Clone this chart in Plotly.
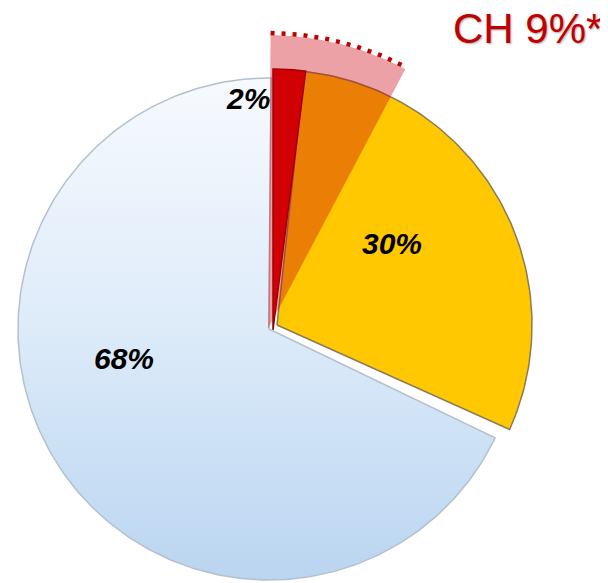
import numpy as np
import plotly.graph_objects as go

# pie data, clockwise from 12 o'clock
slice_names = ["Slice 1", "Slice 2", "Slice 3"]
slice_values = [2, 30, 68]
slice_colors = ["#D60000", "#FFC800", "#D9E9F9"]
slice_edges = ["#8E0000", "#8A7A55", "#B4C0CC"]

# highlighted wedge on top
ch_label = "CH 9%*"
ch_wedge_pct = 7.6   # extent of the pink wedge as drawn

# page body has an 8px margin, so the figure starts at (8, 8) on screen;
# the axes below are set up in screen pixels
PAGE = 8
SW, SH = 608, 583
W, H = SW - PAGE, SH - PAGE

# per-slice apex, radius and start rotation (the original is a tilted 3D pie)
centres = [(273, 330), (277, 325), (269, 329)]
radii = [261, 255, 251]
rotations = [0, -1, 0.5]
label_pos = [(248, 98), (392, 243), (124, 358)]

vals = np.array(slice_values, dtype=float)
total = vals.sum()
starts = np.concatenate([[0], np.cumsum(vals)[:-1]])


def wedge(i):
    px, py = centres[i]
    a0 = rotations[i] + 360 * starts[i] / total
    a1 = a0 + 360 * vals[i] / total
    a = np.radians(np.linspace(a0, a1, max(20, int(vals[i] * 4))))
    xs = np.concatenate([[px], px + radii[i] * np.sin(a), [px]])
    ys = np.concatenate([[py], py - radii[i] * np.cos(a), [py]])
    return xs, ys


fig = go.Figure()

# blue slice gets the soft top-to-bottom gradient of the original
for i in [2, 1, 0]:
    xs, ys = wedge(i)
    extra = {}
    if i == 2:
        extra["fillgradient"] = dict(type="vertical",
                                     colorscale=[[0, "#BAD5F1"], [0.5, "#DDEBF9"], [1, "#F7FAFE"]])
    else:
        extra["fillcolor"] = slice_colors[i]
    fig.add_trace(go.Scatter(
        x=xs, y=ys, mode="lines", fill="toself",
        line=dict(color=slice_edges[i], width=1.5),
        name=slice_names[i], text=f"{slice_values[i]}%", hoverinfo="name+text",
        showlegend=False, **extra,
    ))

# dotted arc over the CH wedge
cx, cy, r_ch = 268, 329, 296
t = np.radians(np.linspace(0.5, 0.5 + 3.6 * ch_wedge_pct, 60))
fig.add_trace(go.Scatter(
    x=cx + r_ch * np.sin(t), y=cy - r_ch * np.cos(t),
    mode="lines", line=dict(color="#C00000", width=4.5, dash="4px,7px"),
    hoverinfo="skip", showlegend=False,
))

# translucent pink wedge
xs = np.concatenate([[cx], cx + (r_ch - 2) * np.sin(t), [cx]])
ys = np.concatenate([[cy], cy - (r_ch - 2) * np.cos(t), [cy]])
fig.add_trace(go.Scatter(
    x=xs, y=ys, mode="lines", fill="toself", fillcolor="rgba(200,0,10,0.37)",
    line=dict(width=0), hoverinfo="skip", showlegend=False,
))

for v, (lx, ly) in zip(slice_values, label_pos):
    fig.add_annotation(x=lx, y=ly, xref="x", yref="y", text=f"{v}%", showarrow=False,
                       font=dict(family="Liberation Sans", size=30, color="black",
                                 weight="bold", style="italic"))

fig.add_annotation(x=604, y=28, xref="x", yref="y", text=ch_label, showarrow=False,
                   xanchor="right", yanchor="middle",
                   font=dict(family="Liberation Sans", size=42, color="#C00000",
                             shadow="1px 1px 2px rgba(0,0,0,0.35)"))

fig.update_layout(
    width=W, height=H, margin=dict(l=0, r=0, t=0, b=0),
    paper_bgcolor="white", plot_bgcolor="white",
    xaxis=dict(range=[PAGE, SW], visible=False, fixedrange=True),
    yaxis=dict(range=[SH, PAGE], visible=False, fixedrange=True),
)

fig.write_html("out.html")
